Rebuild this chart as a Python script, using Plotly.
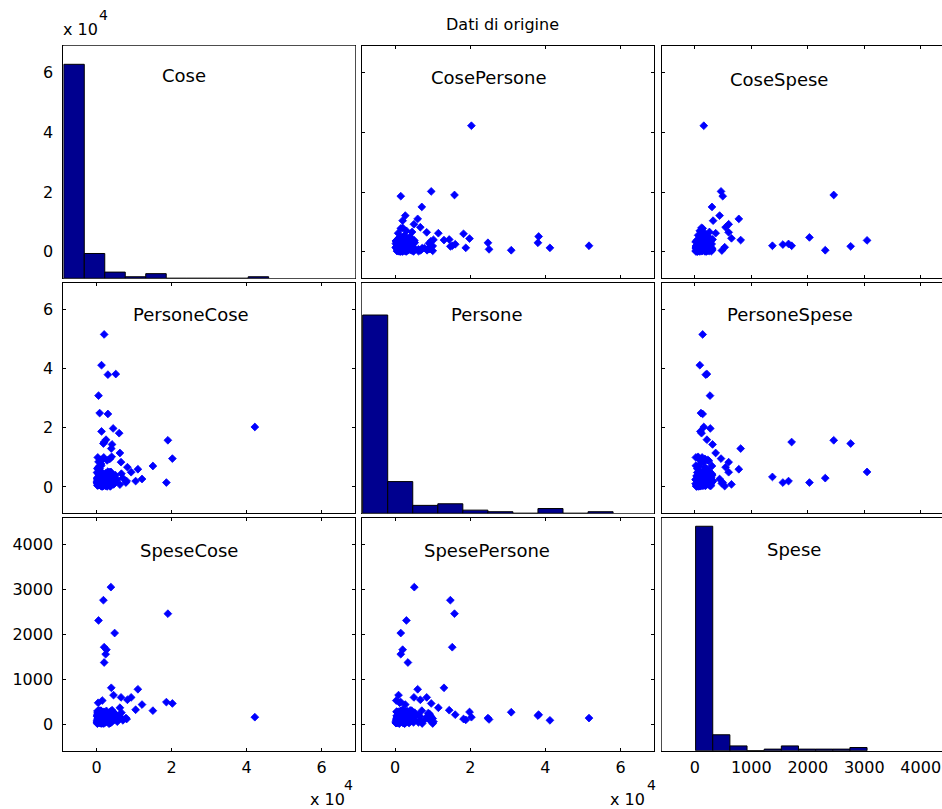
import numpy as np
import plotly.graph_objects as go

# ---------------------------------------------------------------- data
var_names = ["Cose", "Persone", "Spese"]

cose = [
    42200, 20200, 18600, 15000, 19000, 12100, 10400, 11000, 8200, 9200,
    4500, 3900, 2000, 2400, 2600, 2000, 4800, 500, 1800, 3800,
    2000, 1300, 3000, 5100, 500, 800, 3000, 4400, 1300, 6000,
    2500, 4100, 6200, 6500,
    200, 500, 800, 1000, 300, 1200, 1500, 600, 1800, 2000,
    100, 900, 1400, 2200, 400, 1100, 700, 1700, 2400, 200,
    1300, 1900, 500, 1000, 2100, 800, 1600, 300, 1200, 2300,
    600, 1500, 100, 1800, 900, 2500, 400, 1400, 2000, 700,
    1100, 200, 1700, 2200, 500, 1300, 1000, 1900, 800, 1600,
    300, 2400, 1200, 600, 2100, 900, 1500, 100, 1800, 1100,
    2700, 3000, 3300, 2800, 3600, 3100, 4000, 2600, 3400, 3800,
    2900, 4100, 3200, 3500, 2700, 3900, 3000, 3700, 2600, 3300,
    4100, 2800, 3500, 3100, 3900,
    400, 1000, 200, 1500, 700, 2000, 1200, 500, 1800, 900,
    300, 1400, 2200, 600, 2500, 1100, 1700, 800, 100, 1300,
    2400, 1900,
    4800, 5500, 6200, 7000, 7800, 5000, 3800, 8000, 6600, 3600,
    500, 1200, 200, 1800, 800, 400, 1500,
    3500, 2800, 4000, 4000, 3000,
]

persone = [
    20300, 9600, 1500, 7100, 15800, 2700, 2000, 6000, 6700, 5000,
    900, 13000, 3400, 1500, 2000, 15200, 1500, 3000, 14700, 5100,
    51600, 41200, 38000, 38200, 30900, 25000, 24700, 19800, 18800, 18200,
    16000, 14400, 11500, 8400,
    500, 1000, 6200, 1200, 2000, 7200, 1500, 2500, 500, 2200,
    3000, 1800, 200, 1000, 1400, 2800, 700, 3200, 400, 1100,
    2000, 1300, 3400, 8800, 2700, 1600, 900, 2300, 3500, 1700,
    600, 2600, 1500, 1900, 3100, 800, 6600, 1200, 3000, 2100,
    400, 2700, 2400, 1400, 1700, 700, 2500, 10000, 3300, 1800,
    900, 2500, 1600, 2900, 600, 1300, 300, 1900, 3600, 2200,
    1200, 2000, 800, 3500, 1500, 4200, 1000, 2800, 3000, 2200,
    500, 1800, 4800, 3800, 4500, 3200, 5200, 400, 1600, 2500,
    4000, 200, 5000, 1100, 2700,
    4500, 5000, 6200, 4800, 7000, 4200, 7800, 8500, 3600, 9200,
    10000, 4700, 3800, 4000, 4300, 4400, 9500, 5200, 4900, 4100,
    4600, 3900,
    1200, 2500, 800, 3000, 1500, 4000, 500, 2000, 4500, 200,
    800, 2000, 1400, 500, 3000, 1200, 300,
    9500, 9000, 4400, 10200, 3700,
]

spese = [
    160, 465, 495, 305, 2460, 440, 325, 780, 546, 600,
    650, 813, 1375, 1560, 1660, 1715, 2030, 2310, 2760, 3050,
    140, 90, 195, 215, 270, 110, 140, 275, 100, 120,
    215, 315, 370, 600,
    30, 60, 45, 85, 120, 20, 150, 75, 110, 55,
    180, 200, 35, 95, 140, 65, 170, 125, 190, 15,
    230, 80, 100, 250, 160, 210, 40, 260, 135, 70,
    105, 25, 90, 220, 50, 145, 175, 280, 115, 35,
    130, 205, 85, 240, 60, 195, 165, 20, 290, 110,
    235, 45, 75, 155, 265, 185, 95, 55, 215, 30,
    120, 65, 180, 90, 140, 205, 50, 250, 110, 75,
    160, 220, 130, 35, 170, 260, 95, 285, 300, 15,
    125, 70, 190, 240, 145,
    80, 150, 210, 120, 60, 270, 100, 175, 40, 230,
    130, 90, 190, 310, 150, 305, 70, 260, 45, 210,
    95, 125,
    110, 60, 180, 90, 140, 230, 75, 120, 260, 30,
    280, 300, 295, 270, 285, 480, 530,
    180, 120, 220, 60, 240,
]

panel_titles = [
    ["Cose", "CosePersone", "CoseSpese"],
    ["PersoneCose", "Persone", "PersoneSpese"],
    ["SpeseCose", "SpesePersone", "Spese"],
]

big_ticks = [0, 20000, 40000, 60000]
big_tick_text = ["0", "2", "4", "6"]
spese_ticks = [0, 1000, 2000, 3000, 4000]
spese_tick_text = ["0", "1000", "2000", "3000", "4000"]

title_text = "Dati di origine"
exp_base = "x 10"
exp_power = "4"

# ---------------------------------------------------------------- layout
W, H = 942, 809
FONT = "DejaVu Sans"
HIST_BLUE = "rgb(0,0,143)"

col_px = [(63.3, 355.3), (361.7, 654.0), (661.7, 942.0)]
col2_full_right = 953.5           # right panel runs past the page edge
row_px = [(45.7, 278.3), (283.3, 513.3), (518.3, 750.7)]
var_range = [[-8900, 69000], [-8900, 68900], [-585, 4580]]
hist_xrange = [[0, 60000], [0, 60000], None]
hist_ymax = [150, 145, 146]

label_px = {
    (0, 0): (184, 76), (0, 1): (489, 77), (0, 2): (779, 80),
    (1, 0): (191, 314), (1, 1): (487, 314), (1, 2): (790, 314),
    (2, 0): (189, 550), (2, 1): (487, 550), (2, 2): (794, 549),
}


def fx(p):
    return p / W


def fy(p):
    return 1 - p / H


data = [cose, persone, spese]
tickvals = [big_ticks, big_ticks, spese_ticks]
ticktext = [big_tick_text, big_tick_text, spese_tick_text]

fig = go.Figure()
layout = dict(
    width=W, height=H,
    margin=dict(l=0, r=0, t=0, b=0),
    paper_bgcolor="white", plot_bgcolor="white",
    showlegend=False,
    font=dict(family=FONT, size=16, color="black"),
)

axis_common = dict(
    showgrid=False, zeroline=False, showline=True,
    linecolor="black", linewidth=1,
    ticklen=3, tickcolor="black", tickwidth=1,
    fixedrange=True,
    tickfont=dict(family=FONT, size=16, color="black"),
)

visible_xrange = []
for c in range(3):
    xr = list(var_range[c])
    if c == 2:
        x0, x1 = col_px[c]
        xr[1] = xr[0] + (x1 - x0) / (col2_full_right - x0) * (xr[1] - xr[0])
    visible_xrange.append(xr)

# histograms on the diagonal, each in its own hidden axes pair
for i in range(3):
    ov = str(10 + i)
    x0, x1 = col_px[i]
    y0, y1 = row_px[i]
    counts, edges = np.histogram(np.asarray(data[i], dtype=float), bins=10)
    centers = (edges[:-1] + edges[1:]) / 2
    fig.add_trace(go.Bar(
        x=centers, y=counts, width=edges[1] - edges[0],
        marker=dict(color=HIST_BLUE, line=dict(color="black", width=1)),
        xaxis="x" + ov, yaxis="y" + ov, hoverinfo="skip",
    ))
    xr = hist_xrange[i] if hist_xrange[i] is not None else visible_xrange[i]
    layout["xaxis" + ov] = dict(domain=[fx(x0), fx(x1)], anchor="y" + ov,
                                range=xr, visible=False, fixedrange=True)
    layout["yaxis" + ov] = dict(domain=[fy(y1), fy(y0)], anchor="x" + ov,
                                range=[0, hist_ymax[i]], visible=False,
                                fixedrange=True)

for r in range(3):
    for c in range(3):
        k = r * 3 + c + 1
        sfx = "" if k == 1 else str(k)
        x0, x1 = col_px[c]
        y0, y1 = row_px[r]
        diag = r == c

        if diag:
            ymirror = True
        elif c < 2:
            ymirror = "ticks"
        else:
            ymirror = False

        layout["xaxis" + sfx] = dict(
            axis_common,
            domain=[fx(x0), fx(x1)], range=visible_xrange[c],
            anchor="y" + sfx,
            mirror=True if diag else "ticks",
            ticks="" if diag else "inside",
            tickvals=tickvals[c], ticktext=ticktext[c],
            showticklabels=(r == 2),
            ticklabelstandoff=2,
        )
        layout["yaxis" + sfx] = dict(
            axis_common,
            domain=[fy(y1), fy(y0)], range=var_range[r],
            anchor="x" + sfx,
            mirror=ymirror,
            ticks="" if diag else "inside",
            tickvals=tickvals[r], ticktext=ticktext[r],
            showticklabels=(c == 0),
            ticklabelstandoff=6,
        )

        # every panel gets a trace so its axes are drawn; diagonal ones are empty
        fig.add_trace(go.Scatter(
            x=[] if diag else data[c], y=[] if diag else data[r],
            mode="markers",
            marker=dict(symbol="diamond", size=6, color="rgb(0,0,255)",
                        line=dict(width=0.8, color="rgb(0,0,255)")),
            xaxis="x" + sfx, yaxis="y" + sfx, hoverinfo="skip",
        ))

annotations = []
for (r, c), (px, py) in label_px.items():
    annotations.append(dict(
        text=panel_titles[r][c], xref="paper", yref="paper",
        x=fx(px), y=fy(py), xanchor="center", yanchor="middle",
        showarrow=False, font=dict(family=FONT, size=18, color="black"),
    ))

annotations.append(dict(
    text=title_text, xref="paper", yref="paper",
    x=fx(502), y=fy(25), xanchor="center", yanchor="middle",
    showarrow=False, font=dict(family=FONT, size=16, color="black"),
))

# scale factors for the axes measured in units of 10^4
for bx, by, ex, ey in [(80, 30, 103, 15), (327, 799, 348, 785), (627, 799, 651, 785)]:
    annotations.append(dict(
        text=exp_base, xref="paper", yref="paper", x=fx(bx), y=fy(by),
        xanchor="center", yanchor="middle", showarrow=False,
        font=dict(family=FONT, size=16, color="black"),
    ))
    annotations.append(dict(
        text=exp_power, xref="paper", yref="paper", x=fx(ex), y=fy(ey),
        xanchor="center", yanchor="middle", showarrow=False,
        font=dict(family=FONT, size=14, color="black"),
    ))

layout["annotations"] = annotations
fig.update_layout(**layout)
fig.write_html("out.html")
